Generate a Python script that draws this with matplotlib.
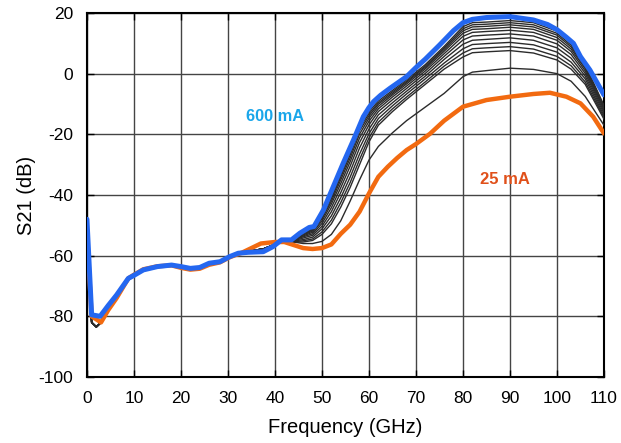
import matplotlib
matplotlib.use('Agg')
import matplotlib.pyplot as plt

plt.rcParams['font.family'] = ['Liberation Sans', 'DejaVu Sans']
plt.rcParams['axes.unicode_minus'] = False

# 600 mA trace
f_600 = [0, 1, 2.8, 4.5, 6.3, 8.8, 10, 12, 15, 18, 20, 22, 24, 26, 28.3, 30.4,
         32.2, 34.3, 37.5, 39.6, 41.4, 43.5, 45.3, 47.3, 48.3, 50.3, 52.4, 54.5,
         56.7, 58.8, 60, 61, 62.5, 64.5, 68, 70, 72, 75, 78, 80, 82, 85, 90, 95,
         98, 100, 102, 103.5, 105, 107, 110]
s21_600 = [-48, -79.5, -80, -76.5, -73, -67.5, -66.5, -64.7, -63.6, -63.1, -63.6,
           -64.2, -63.9, -62.5, -62, -60.3, -59.2, -58.9, -58.7, -57, -54.8, -54.8,
           -52.6, -50.7, -50.4, -45, -37.3, -29.6, -21.9, -14.2, -11.2, -9.2,
           -7.1, -4.8, -1.0, 2, 4.8, 9.4, 14.2, 16.8, 17.9, 18.5, 18.8, 17.7,
           16.2, 14.5, 12, 10, 5.6, 1.2, -7]

# 25 mA trace
f_25 = [0, 1, 3, 4.5, 6.3, 8.8, 10, 12, 15, 18, 20, 22, 24, 26, 28.3, 30.4, 33,
        35, 37, 40, 42, 44, 46, 48, 50, 52, 54, 56, 58, 60, 62, 64, 66, 68, 70,
        73, 76, 80, 85, 90, 95, 98.5, 102, 105, 107.7, 110]
s21_25 = [-53, -80, -82, -78, -74, -67.5, -66.3, -64.5, -63.5, -63.2, -64,
          -64.6, -64.3, -63, -62.2, -60.5, -59, -57.5, -56, -55.5, -55.5, -56.5,
          -57.5, -57.8, -57.5, -56.3, -52.8, -49.8, -45.5, -39.5, -34, -30.7,
          -27.8, -25.2, -23.2, -19.8, -15.5, -10.9, -8.7, -7.6, -6.7, -6.3, -7.6,
          -9.8, -14.2, -19.7]

# intermediate bias currents: common low band, then one row per trace
f_mid_low = [0, 1, 2, 3, 4.5, 6.3, 8.8, 10, 12, 15, 18, 20, 22, 24, 26, 28.3,
             30.4, 32.2, 34.3, 37.5, 39.6]
s21_mid_low = [-50, -82, -83.5, -82, -77.5, -73.5, -67.5, -66, -64.5, -63.4, -63,
               -63.6, -64.2, -63.9, -62.5, -61.8, -60.2, -59, -58.5, -57.8, -56.5]
f_mid_high = [42, 44, 46, 48, 50, 52, 54, 56, 58, 60, 62, 65, 68, 72, 76, 80, 82,
              85, 90, 95, 100, 103, 106, 110]
s21_mid_high = [
    [-55.0, -55.5, -56.0, -56.0, -55.3, -53.0, -48.5, -42.0, -35.0, -28.5, -24.0,
     -19.5, -15.5, -11.0, -6.5, -1.0, 0.5, 1.0, 1.8, 1.4, 0.0, -2.5, -7.5, -17.0],
    [-55.0, -55.5, -55.5, -55.0, -53.0, -49.5, -44.0, -37.5, -30.0, -22.5, -17.0,
     -12.5, -8.5, -3.5, 1.5, 5.5, 6.9, 7.2, 7.6, 6.8, 4.5, 1.5, -3.5, -15.0],
    [-55.0, -55.4, -55.1, -54.5, -52.2, -48.3, -42.5, -35.9, -28.3, -21.2, -16.0,
     -11.6, -7.7, -2.7, 2.5, 6.8, 8.2, 8.5, 8.9, 8.1, 5.7, 2.6, -2.7, -14.4],
    [-55.0, -55.2, -54.7, -53.9, -51.2, -46.9, -40.9, -34.1, -26.5, -19.8, -14.8,
     -10.6, -6.7, -1.7, 3.5, 8.2, 9.6, 9.9, 10.3, 9.5, 7.1, 3.8, -1.7, -13.8],
    [-54.9, -55.1, -54.2, -53.3, -50.3, -45.5, -39.2, -32.3, -24.5, -18.3, -13.6,
     -9.6, -5.8, -0.8, 4.7, 9.7, 11.0, 11.3, 11.8, 11.0, 8.5, 5.1, -0.8, -13.1],
    [-54.9, -54.9, -53.8, -52.8, -49.4, -44.2, -37.6, -30.5, -22.7, -16.9, -12.5,
     -8.6, -4.9, 0.1, 5.7, 11.1, 12.4, 12.7, 13.1, 12.4, 9.8, 6.3, 0.1, -12.5],
    [-54.9, -54.8, -53.5, -52.3, -48.6, -43.0, -36.2, -29.0, -21.2, -15.7, -11.6,
     -7.7, -4.1, 0.9, 6.6, 12.3, 13.6, 13.9, 14.3, 13.6, 11.0, 7.3, 0.9, -11.9],
    [-54.8, -54.7, -53.2, -51.9, -47.9, -42.1, -35.0, -27.8, -19.9, -14.7, -10.8,
     -7.0, -3.4, 1.6, 7.4, 13.3, 14.6, 14.8, 15.3, 14.6, 11.9, 8.1, 1.6, -11.5],
    [-54.8, -54.6, -52.9, -51.6, -47.4, -41.3, -34.1, -26.8, -18.8, -13.9, -10.1,
     -6.5, -2.9, 2.1, 8.0, 14.1, 15.4, 15.6, 16.1, 15.4, 12.7, 8.8, 2.1, -11.1],
    [-54.8, -54.6, -52.7, -51.3, -47.0, -40.7, -33.3, -25.9, -17.9, -13.2, -9.6,
     -6.0, -2.5, 2.5, 8.5, 14.8, 16.1, 16.3, 16.8, 16.1, 13.3, 9.4, 2.5, -10.8],
    [-54.8, -54.5, -52.5, -51.0, -46.5, -40.0, -32.5, -25.0, -17.0, -12.5, -9.0,
     -5.5, -2.0, 3.0, 9.0, 15.5, 16.8, 17.0, 17.5, 16.8, 14.0, 10.0, 3.0, -10.5],
]

x_ticks = list(range(0, 111, 10))
y_ticks = list(range(-100, 21, 20))

fig = plt.figure(figsize=(6.21, 4.43), dpi=100)
ax = fig.add_axes([0.140, 0.149, 0.8326, 0.8217])

for row in s21_mid_high:
    ax.plot(f_mid_low + f_mid_high, s21_mid_low + row, color='#2b2b2b',
            lw=1.0, zorder=3)
ax.plot(f_25, s21_25, color='#f26a10', lw=3.2, zorder=4,
        solid_joinstyle='round', solid_capstyle='round')
ax.plot(f_600, s21_600, color='#2467f0', lw=3.6, zorder=5,
        solid_joinstyle='round', solid_capstyle='round')

ax.text(40, -14, '600 mA', color='#1aa6ea', fontsize=11.8, fontweight='bold',
        ha='center', va='center')
ax.text(89, -35, '25 mA', color='#e0501a', fontsize=12, fontweight='bold',
        ha='center', va='center')

ax.set_xlim(0, 110)
ax.set_ylim(-100, 20)
ax.set_xticks(x_ticks)
ax.set_yticks(y_ticks)
ax.tick_params(labelsize=12.5, direction='in', length=5, width=1,
               top=True, right=True)
ax.tick_params(axis='x', pad=10)
ax.tick_params(axis='y', pad=10)
ax.grid(True, color='#444444', lw=1.0)
ax.set_axisbelow(True)
for sp in ax.spines.values():
    sp.set_linewidth(1.5)

ax.set_xlabel('Frequency (GHz)', fontsize=14.5, labelpad=9)
ax.set_ylabel('S21 (dB)', fontsize=14.5, labelpad=2)

fig.savefig('out.png', dpi=100)
